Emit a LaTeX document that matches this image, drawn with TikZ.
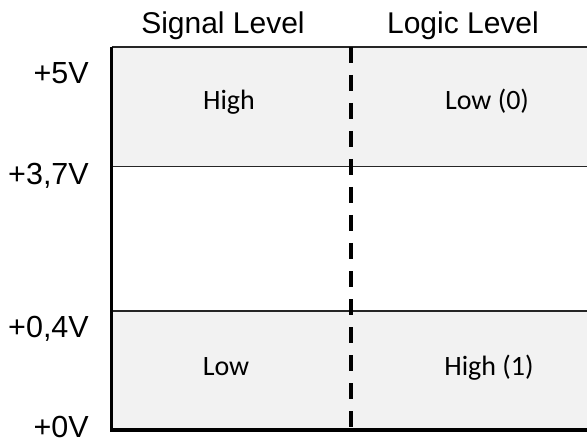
\documentclass[tikz,border=0pt]{standalone}
\usepackage{fontspec}
\setmainfont{Liberation Sans}
\newfontfamily\cellfont{Carlito}
\definecolor{cellgray}{HTML}{F2F2F2}

\begin{document}
\begin{tikzpicture}[x=1pt, y=-1pt,
    volt/.style={anchor=base east, inner sep=0pt, font=\fontsize{30.5}{36}\selectfont},
    head/.style={anchor=base, inner sep=0pt, font=\fontsize{30}{36}\selectfont},
    cell/.style={anchor=base, inner sep=0pt, font=\cellfont\fontsize{28}{32}\selectfont},
    thinline/.style={line width=1.6pt, black!85},
    axisline/.style={line width=3.5pt}]
    \useasboundingbox (0,0) rectangle (587,441);

    \coordinate (TL) at (111.5, 47);
    \coordinate (TR) at (587, 47);
    \coordinate (HL) at (111.5, 166.5);
    \coordinate (HR) at (587, 166.5);
    \coordinate (LL) at (111.5, 311);
    \coordinate (LR) at (587, 311);
    \coordinate (O) at (111.5, 430);
    \coordinate (BR) at (587, 430);
    \coordinate (DT) at (351, 47);
    \coordinate (DB) at (351, 430);

    % shaded bands
    \fill[cellgray] (TL) rectangle (HR);
    \fill[cellgray] (LL) rectangle (BR);

    \draw[thinline] (TL) -- (TR);
    \draw[thinline] (HL) -- (HR);
    \draw[thinline] (LL) -- (LR);
    \draw[axisline, dash pattern=on 16pt off 12pt] (DT) -- (DB);
    \draw[axisline] (TL) -- (O) -- (BR);

    \node[head] (sig) at (223, 34) {Signal Level};
    \node[head] (log) at (463, 34) {Logic Level};

    \node[volt] (v5) at (89, 84) {+5V};
    \node[volt] (v37) at (89, 185) {+3,7V};
    \node[volt] (v04) at (89, 337) {+0,4V};
    \node[volt] (v0) at (89, 437) {+0V};

    \node[cell] (high) at (229, 110) {High};
    \node[cell] (low0) at (487, 110) {Low (0)};
    \node[cell] (low) at (226, 375) {Low};
    \node[cell] (high1) at (489, 375) {High (1)};
\end{tikzpicture}
\end{document}
